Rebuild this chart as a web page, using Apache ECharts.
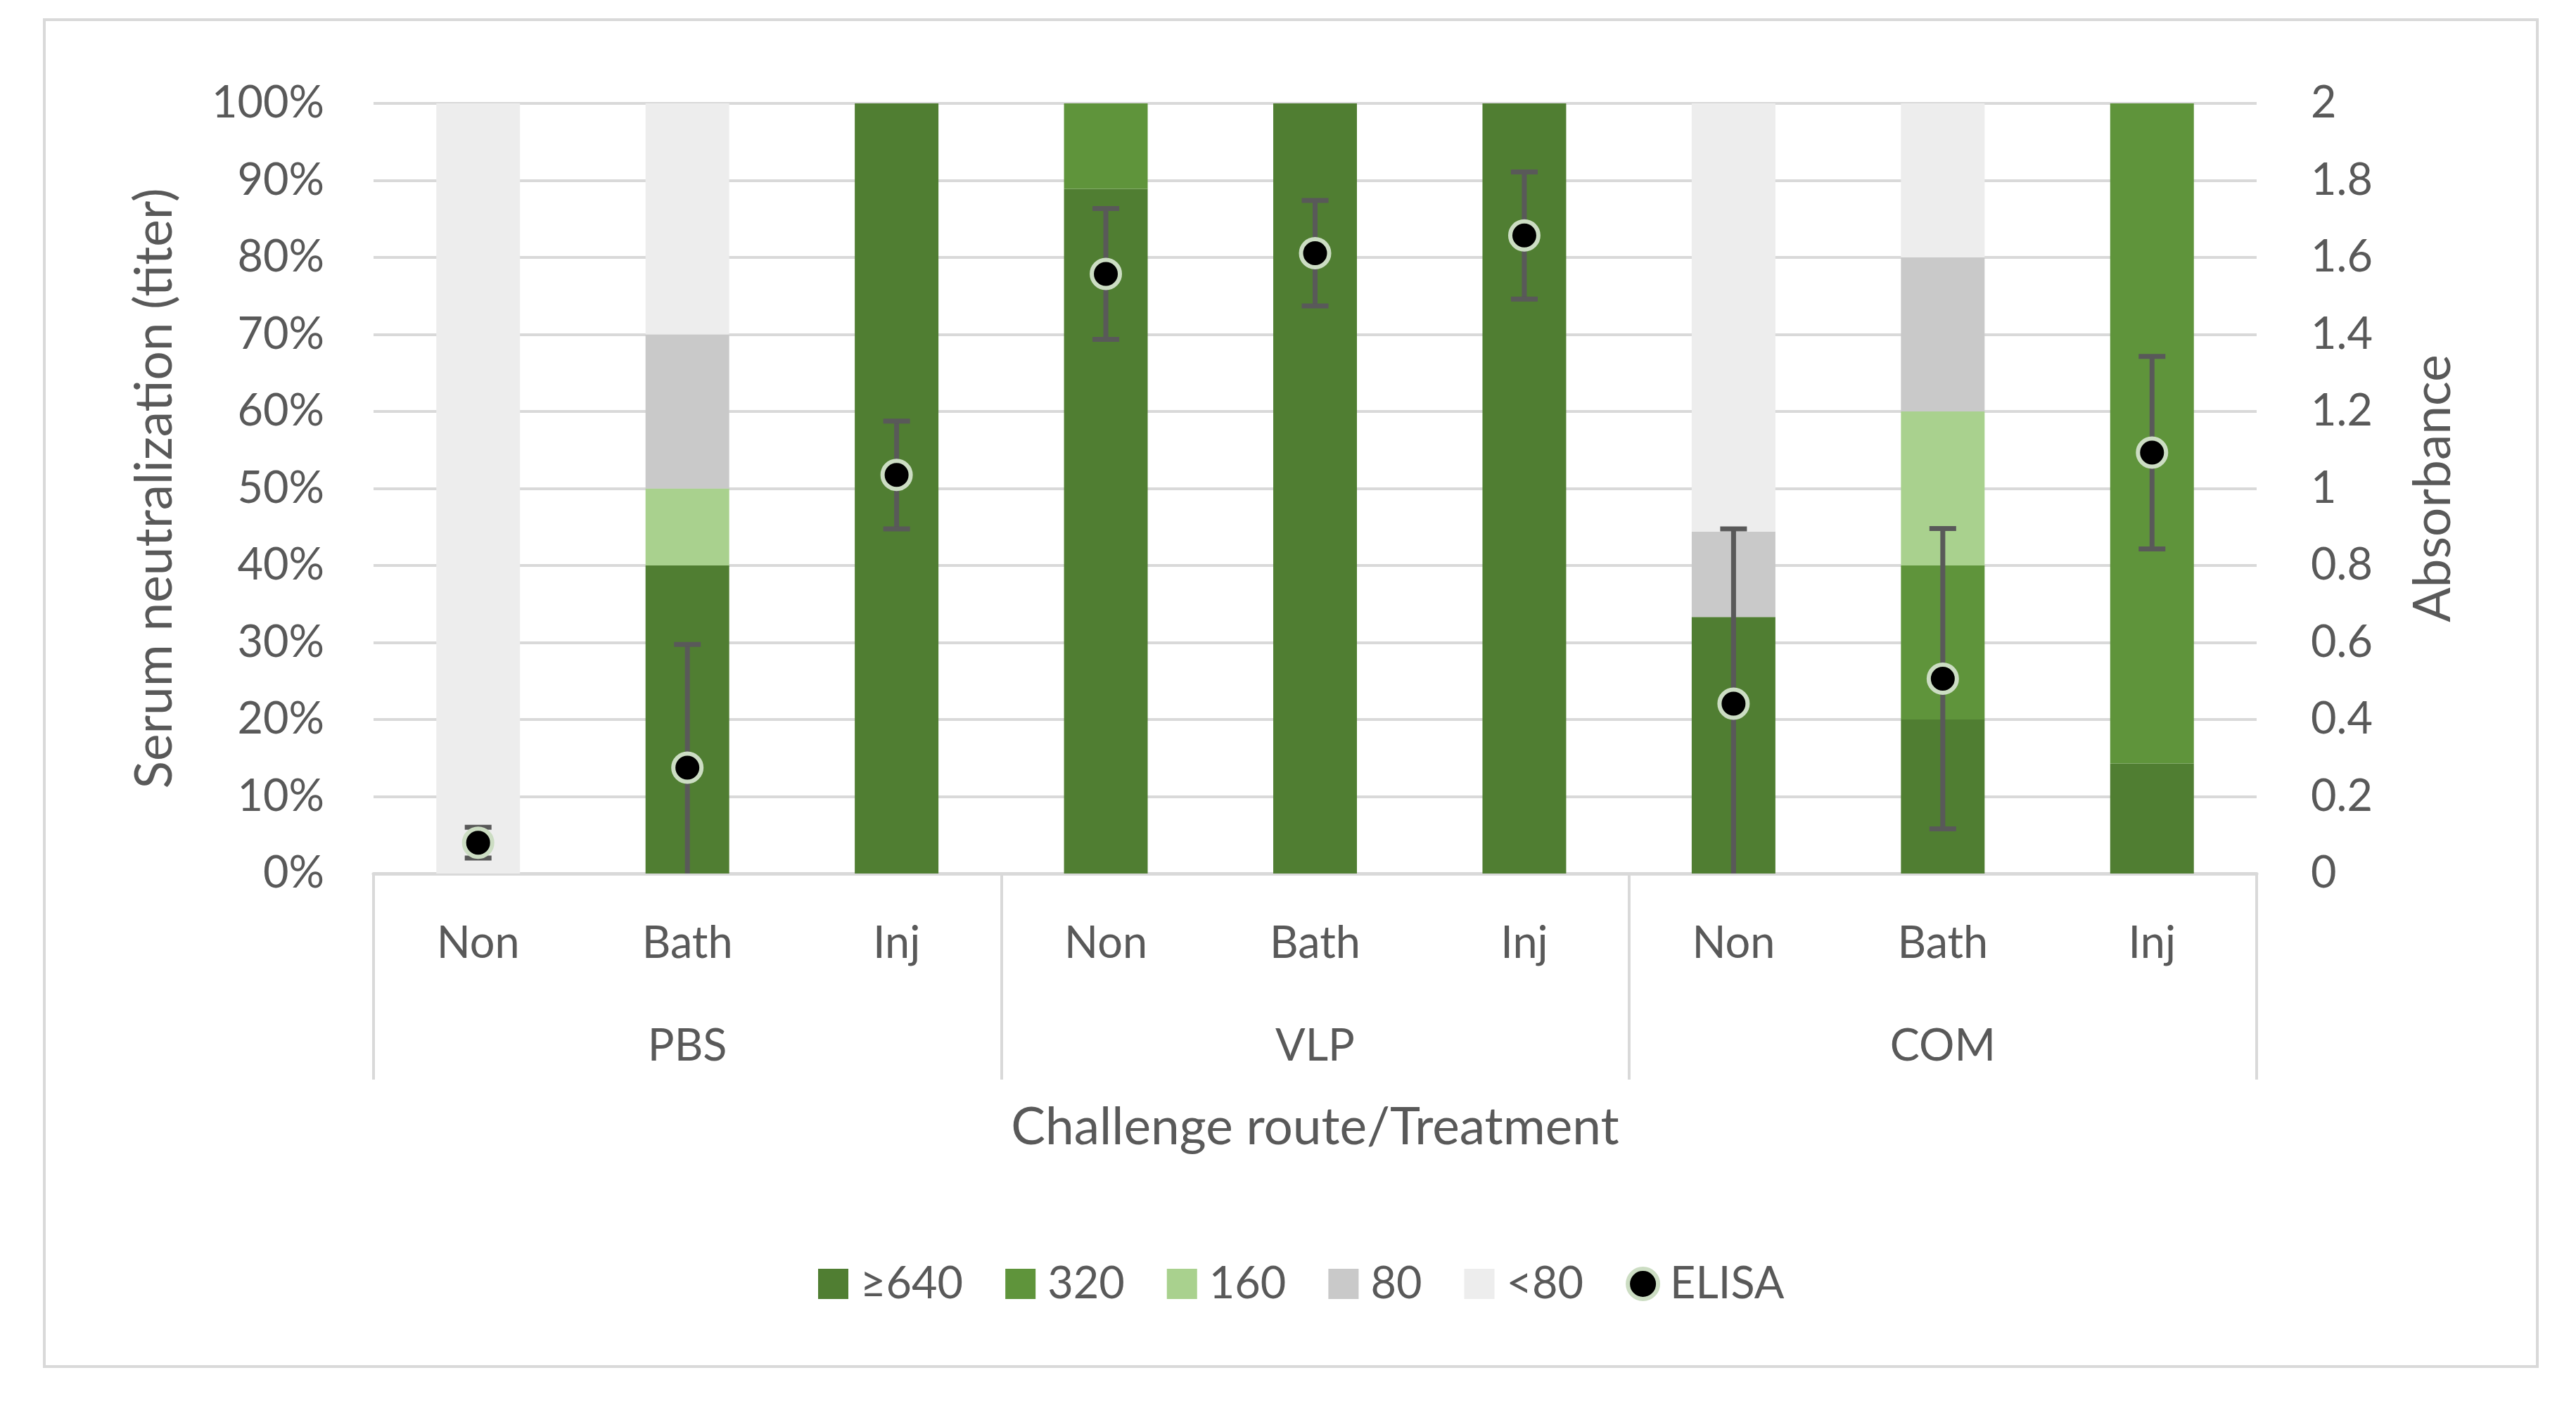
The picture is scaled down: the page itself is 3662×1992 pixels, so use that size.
<!DOCTYPE html>
<html>
<head>
<meta charset="utf-8">
<script src="https://cdn.jsdelivr.net/npm/echarts@6/dist/echarts.min.js"></script>
<style>
html,body{margin:0;padding:0;background:#fff;}
#chart{width:3662px;height:1992px;}
</style>
</head>
<body>
<div id="chart"></div>
<script>
// ---- Data ----
var categories = ['Non', 'Bath', 'Inj', 'Non', 'Bath', 'Inj', 'Non', 'Bath', 'Inj'];
var groups = ['PBS', 'VLP', 'COM'];
var seriesNames = ['\u2265640', '320', '160', '80', '<80'];
var t640 = [0, 40, 100, 88.9, 100, 100, 33.3, 20, 14.3];
var t320 = [0, 0, 0, 11.1, 0, 0, 0, 20, 85.7];
var t160 = [0, 10, 0, 0, 0, 0, 0, 20, 0];
var t80 = [0, 20, 0, 0, 0, 0, 11.1, 20, 0];
var tLt80 = [100, 30, 0, 0, 0, 0, 55.6, 20, 0];
var elisa = [0.08, 0.275, 1.035, 1.557, 1.611, 1.657, 0.441, 0.506, 1.093];
var elisaErr = [0.04, 0.32, 0.14, 0.17, 0.137, 0.165, 0.454, 0.39, 0.25];
var leftTicks = {min: 0, max: 100, interval: 10};
var rightTicks = {min: 0, max: 2, interval: 0.2};

// ---- Styles ----
var colors = ['#507E32', '#5F943B', '#A9D18E', '#C9C9C9', '#EDEDED'];
var textColor = '#595959';
var gridColor = '#D9D9D9';
var font = 'Lato';
var markerStyle = {color: '#000000', borderColor: '#CCDDC3', borderWidth: 6, opacity: 1};

var stacks = [t640, t320, t160, t80, tLt80];
var barSeries = stacks.map(function (arr, i) {
  return {
    name: seriesNames[i],
    type: 'bar',
    stack: 'titer',
    barWidth: '40%',
    xAxisIndex: 0,
    yAxisIndex: 0,
    itemStyle: {color: colors[i]},
    data: arr,
    z: 2
  };
});

var errData = elisa.map(function (v, i) { return [i, v, elisaErr[i]]; });
var scatterData = elisa.map(function (v, i) { return [i, v]; });

var option = {
  animation: false,
  backgroundColor: '#fff',
  textStyle: {fontFamily: font},
  graphic: [{
    type: 'rect',
    shape: {x: 63, y: 28, width: 3544, height: 1915},
    style: {fill: 'none', stroke: gridColor, lineWidth: 4},
    silent: true
  }],
  grid: {left: 531, right: 454, top: 147, bottom: 750},
  legend: {
    left: 1158,
    top: 1789,
    itemWidth: 43,
    itemHeight: 43,
    itemGap: 60,
    textStyle: {fontFamily: font, fontSize: 63, color: textColor, padding: [0, 0, 0, 12]},
    data: [
      {name: seriesNames[0], icon: 'rect'},
      {name: seriesNames[1], icon: 'rect'},
      {name: seriesNames[2], icon: 'rect'},
      {name: seriesNames[3], icon: 'rect'},
      {name: seriesNames[4], icon: 'rect'},
      {name: 'ELISA', icon: 'circle', itemStyle: markerStyle}
    ]
  },
  xAxis: [{
    type: 'category',
    data: categories,
    position: 'bottom',
    axisLine: {show: true, lineStyle: {color: gridColor, width: 5}},
    axisTick: {show: false},
    axisLabel: {fontFamily: font, fontSize: 63, color: textColor, margin: 68, interval: 0},
    name: 'Challenge route/Treatment',
    nameLocation: 'middle',
    nameGap: 325,
    nameTextStyle: {fontFamily: font, fontSize: 73, color: textColor}
  }, {
    type: 'category',
    data: groups,
    position: 'bottom',
    offset: 0,
    axisLine: {show: false},
    axisTick: {show: true, length: 293, interval: 0, lineStyle: {color: gridColor, width: 4}},
    axisLabel: {fontFamily: font, fontSize: 63, color: textColor, margin: 214, interval: 0},
    splitLine: {show: false}
  }],
  yAxis: [{
    type: 'value',
    min: leftTicks.min,
    max: leftTicks.max,
    interval: leftTicks.interval,
    position: 'left',
    axisLine: {show: false},
    axisTick: {show: false},
    axisLabel: {fontFamily: font, fontSize: 63, color: textColor, margin: 70, formatter: '{value}%'},
    splitLine: {show: true, lineStyle: {color: gridColor, width: 4}},
    name: 'Serum neutralization (titer)',
    nameLocation: 'middle',
    nameRotate: 90,
    nameGap: 274,
    nameTextStyle: {fontFamily: font, fontSize: 73, color: textColor}
  }, {
    type: 'value',
    min: rightTicks.min,
    max: rightTicks.max,
    interval: rightTicks.interval,
    position: 'right',
    axisLine: {show: false},
    axisTick: {show: false},
    splitLine: {show: false},
    axisLabel: {
      fontFamily: font, fontSize: 63, color: textColor, margin: 77,
      formatter: function (v) { return String(Math.round(v * 10) / 10); }
    },
    name: 'Absorbance',
    nameLocation: 'middle',
    nameRotate: 90,
    nameGap: 215,
    nameTextStyle: {fontFamily: font, fontSize: 73, color: textColor}
  }],
  series: barSeries.concat([{
    name: 'ELISA-err',
    type: 'custom',
    xAxisIndex: 0,
    yAxisIndex: 1,
    z: 5,
    data: errData,
    renderItem: function (params, api) {
      var x = api.value(0), v = api.value(1), e = api.value(2);
      var hi = v + e;
      var lo = Math.max(0, v - e);
      var pTop = api.coord([x, hi]);
      var pBot = api.coord([x, lo]);
      var half = 19;
      var st = {stroke: '#595959', lineWidth: 7, fill: null};
      var children = [
        {type: 'line', shape: {x1: pTop[0], y1: pTop[1], x2: pBot[0], y2: pBot[1]}, style: st},
        {type: 'line', shape: {x1: pTop[0] - half, y1: pTop[1], x2: pTop[0] + half, y2: pTop[1]}, style: st}
      ];
      if (v - e >= 0) {
        children.push({type: 'line', shape: {x1: pBot[0] - half, y1: pBot[1], x2: pBot[0] + half, y2: pBot[1]}, style: st});
      }
      return {type: 'group', children: children};
    }
  }, {
    name: 'ELISA',
    type: 'scatter',
    xAxisIndex: 0,
    yAxisIndex: 1,
    z: 10,
    symbol: 'circle',
    symbolSize: 40,
    itemStyle: markerStyle,
    data: scatterData
  }])
};

var chart = echarts.init(document.getElementById('chart'), null, {renderer: 'canvas'});
chart.setOption(option);
</script>
</body>
</html>
